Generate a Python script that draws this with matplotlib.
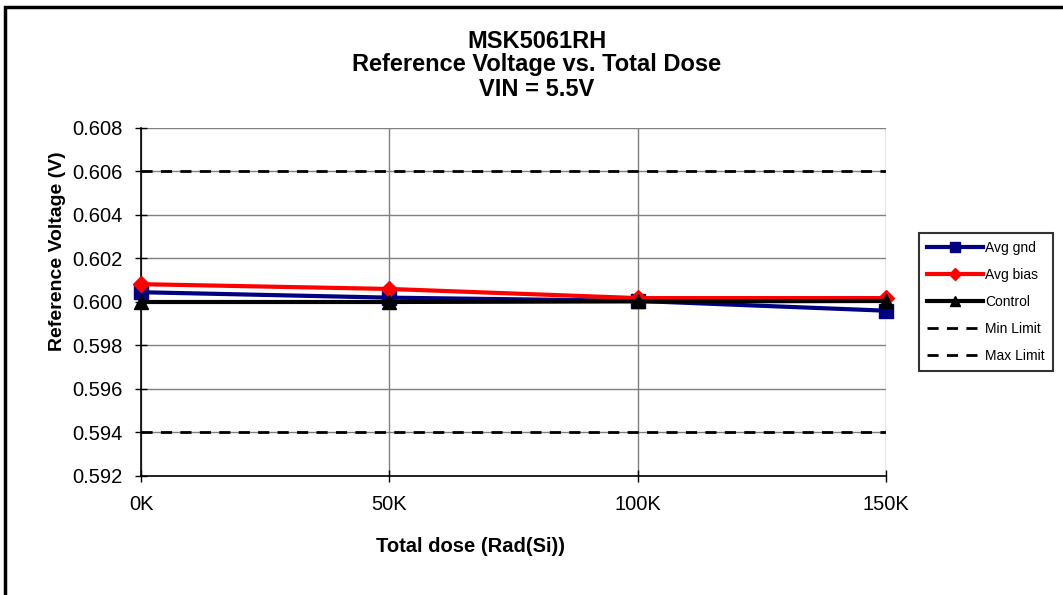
import matplotlib
matplotlib.use("Agg")
import matplotlib.pyplot as plt
from matplotlib.patches import Rectangle
from matplotlib.ticker import FuncFormatter

plt.rcParams['font.family'] = ['Liberation Sans', 'DejaVu Sans']

doses = [0, 50, 100, 150]
dose_labels = ['0K', '50K', '100K', '150K']
avg_gnd = [0.60045, 0.60020, 0.60005, 0.59960]
avg_bias = [0.60082, 0.60060, 0.60018, 0.60018]
control = [0.60000, 0.60000, 0.60003, 0.60005]
min_limit = [0.594, 0.594, 0.594, 0.594]
max_limit = [0.606, 0.606, 0.606, 0.606]
y_ticks = [0.592, 0.594, 0.596, 0.598, 0.600, 0.602, 0.604, 0.606, 0.608]

W, H = 1063, 595
fig = plt.figure(figsize=(W / 100, H / 100), dpi=100)
ax = fig.add_axes([141 / W, 1 - 476 / H, (886 - 141) / W, (476 - 128) / H])

ax.plot(doses, avg_gnd, color='#000080', lw=3, marker='s', ms=9.5, label='Avg gnd', zorder=4, clip_on=False)
ax.plot(doses, avg_bias, color='#ff0000', lw=3, marker='D', ms=8.5, label='Avg bias', zorder=5, clip_on=False)
ax.plot(doses, control, color='black', lw=3, marker='^', ms=10, label='Control', zorder=6, clip_on=False)
ax.plot(doses, min_limit, color='black', lw=2, ls=(0, (4, 3)), label='Min Limit', zorder=3)
ax.plot(doses, max_limit, color='black', lw=2, ls=(0, (4, 3)), label='Max Limit', zorder=3)

ax.set_xlim(0, 150)
ax.set_ylim(0.592, 0.608)
ax.set_xticks(doses)
ax.set_xticklabels(dose_labels)
ax.set_yticks(y_ticks)
ax.yaxis.set_major_formatter(FuncFormatter(lambda v, p: f"{v:.3f}"))
ax.tick_params(axis='both', labelsize=14.5, direction='inout', length=8, width=1, color='black')
ax.tick_params(axis='x', pad=10)
ax.tick_params(axis='y', pad=9)
ax.grid(True, color='#808080', lw=1, zorder=0)
for s in ['top', 'right']:
    ax.spines[s].set_visible(False)
ax.spines['left'].set_linewidth(1.2)
ax.spines['bottom'].set_linewidth(1.2)

fig.text(537 / W, 1 - 42 / H, 'MSK5061RH', ha='center', va='center', fontsize=17, fontweight='bold')
fig.text(537 / W, 1 - 65 / H, 'Reference Voltage vs. Total Dose', ha='center', va='center', fontsize=17, fontweight='bold')
fig.text(537 / W, 1 - 90 / H, 'VIN = 5.5V', ha='center', va='center', fontsize=17, fontweight='bold')
fig.text(471 / W, 1 - 547 / H, 'Total dose (Rad(Si))', ha='center', va='center', fontsize=14.5, fontweight='bold')
fig.text(57 / W, 1 - 251 / H, 'Reference Voltage (V)', ha='center', va='center', fontsize=14, fontweight='bold', rotation=90)

leg = fig.legend(loc='upper left', bbox_to_anchor=(919 / W, 1 - 233 / H), borderaxespad=0, fontsize=10,
                 frameon=True, fancybox=False, edgecolor='black', handlelength=4.0,
                 markerscale=0.7, labelspacing=0.94, borderpad=0.58, handletextpad=0.2)
leg.get_frame().set_linewidth(1.5)

fig.patches.append(Rectangle((5 / W, -0.1), 1.2, 1 - 7 / H + 0.1, transform=fig.transFigure,
                             fill=False, edgecolor='black', lw=2.5))

fig.savefig('out.png', dpi=100)
